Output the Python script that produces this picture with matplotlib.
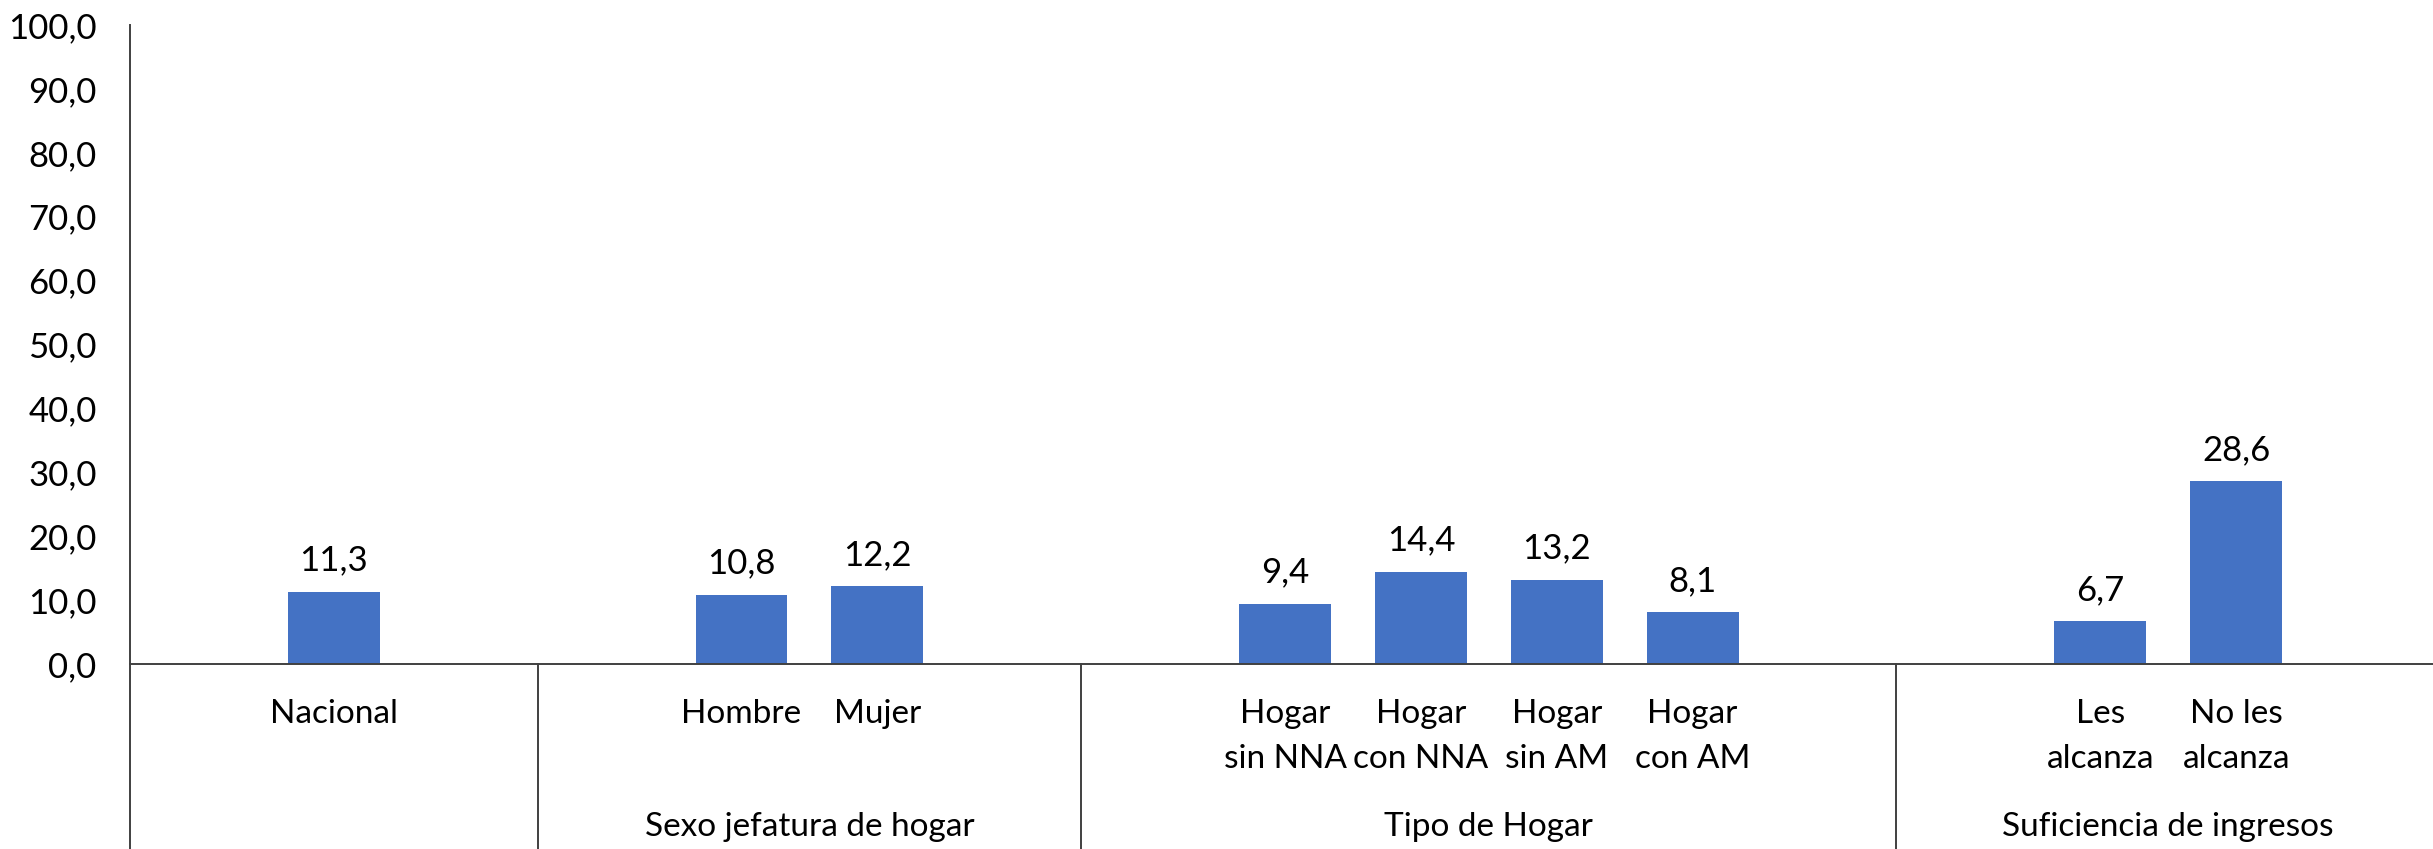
import matplotlib
matplotlib.use("Agg")
import matplotlib.pyplot as plt

plt.rcParams['font.family'] = ['Lato', 'DejaVu Sans']

# Category slots along the axis (blank slots keep the groups apart)
slot_labels = ["", "Nacional", "",
               "", "Hombre", "Mujer", "",
               "", "Hogar\nsin NNA", "Hogar\ncon NNA", "Hogar\nsin AM", "Hogar\ncon AM", "",
               "", "Les\nalcanza", "No les\nalcanza", ""]
slot_values = [None, 11.3, None,
               None, 10.8, 12.2, None,
               None, 9.4, 14.4, 13.2, 8.1, None,
               None, 6.7, 28.6, None]

group_names = ["", "Sexo jefatura de hogar", "Tipo de Hogar", "Suficiencia de ingresos"]
group_bounds = [(-0.5, 2.5), (2.5, 6.5), (6.5, 12.5), (12.5, 16.5)]

y_ticks = [0, 10, 20, 30, 40, 50, 60, 70, 80, 90, 100]

W, H = 2433, 849
fig = plt.figure(figsize=(W / 100, H / 100), dpi=100)
left_px, right_px, top_px, zero_px = 130, 2440, 25, 664
ax = fig.add_axes([left_px / W, (H - zero_px) / H,
                   (right_px - left_px) / W, (zero_px - top_px) / H])

bar_color = "#4472C4"
line_color = "#404040"
fs = 25
fs_cat = 24

xs = [i for i, v in enumerate(slot_values) if v is not None]
vals = [v for v in slot_values if v is not None]
ax.bar(xs, vals, width=0.675, color=bar_color, edgecolor="none", zorder=2)

for x, v in zip(xs, vals):
    ax.annotate(f"{v:.1f}".replace(".", ","), (x, v), xytext=(0, 11),
                textcoords="offset points", ha="center", va="bottom",
                fontsize=fs, color="black")

ax.set_xlim(-0.5, 16.5)
ax.set_ylim(0, 100)
ax.set_yticks(y_ticks)
ax.set_yticklabels([f"{t:.1f}".replace(".", ",") for t in y_ticks], fontsize=fs)
ax.tick_params(axis="y", length=0, pad=24)
ax.set_xticks([])

for s in ["top", "right", "left", "bottom"]:
    ax.spines[s].set_visible(False)

ax_h = zero_px - top_px
bottom_frac = -(H - zero_px) / ax_h
trans = ax.get_xaxis_transform()

# Axis lines and group separators extending through the label area
ax.plot([-0.5, 16.6], [0, 0], transform=trans, color=line_color, lw=1.4,
        clip_on=False, zorder=3)
ax.plot([-0.5, -0.5], [bottom_frac, 1.0], transform=trans, color=line_color,
        lw=1.4, clip_on=False, zorder=3)
for lo, hi in group_bounds[1:]:
    ax.plot([lo, lo], [bottom_frac, 0], transform=trans, color=line_color,
            lw=1.4, clip_on=False, zorder=3)

# Category labels, one text per line
line1_y = -(714 - zero_px) / ax_h
line_gap = 45 / ax_h
for i, lab in enumerate(slot_labels):
    if not lab:
        continue
    for k, part in enumerate(lab.split("\n")):
        ax.text(i, line1_y - k * line_gap, part, transform=trans,
                ha="center", va="center", fontsize=fs_cat, color="black")

group_y = -(827 - zero_px) / ax_h
for name, (lo, hi) in zip(group_names, group_bounds):
    if name:
        ax.text((lo + hi) / 2, group_y, name, transform=trans,
                ha="center", va="center", fontsize=fs_cat, color="black")

fig.savefig("out.png", dpi=100)
